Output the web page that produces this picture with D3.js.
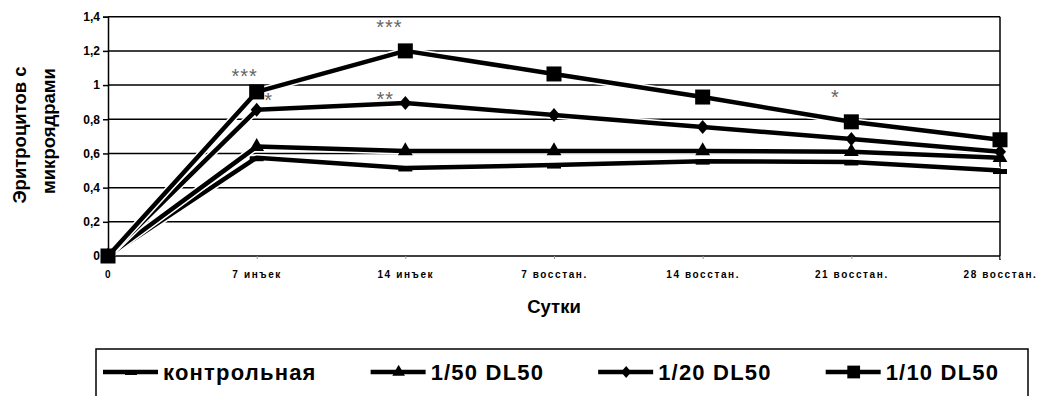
<!DOCTYPE html>
<html>
<head>
<meta charset="utf-8">
<script src="https://cdn.jsdelivr.net/npm/d3@7"></script>
<style>
  html, body { margin: 0; padding: 0; background: #fff; }
  svg { display: block; font-family: Arial, "Liberation Sans", sans-serif; }
</style>
</head>
<body>
<div id="chart"></div>
<script>
// categories (days)
const days = ['0', '7 инъек', '14 инъек', '7 восстан.', '14 восстан.', '21 восстан.', '28 восстан.'];

// series values
const control = [0, 0.575, 0.515, 0.532, 0.555, 0.55, 0.50];
const dose50 = [0, 0.64, 0.615, 0.615, 0.615, 0.61, 0.575];
const dose20 = [0, 0.855, 0.895, 0.825, 0.755, 0.685, 0.61];
const dose10 = [0, 0.96, 1.2, 1.065, 0.93, 0.785, 0.68];

const seriesNames = ['контрольная', '1/50 DL50', '1/20 DL50', '1/10 DL50'];
const seriesMarkers = ['dash', 'triangle', 'diamond', 'square'];

const yTicks = [0, 0.2, 0.4, 0.6, 0.8, 1, 1.2, 1.4];

// significance marks: category, value level, text
const marks = [
    { day: '7 инъек', level: 1.08, text: '***', dx: -12 },
    { day: '7 инъек', level: 0.94, text: '*', dx: 12 },
    { day: '14 инъек', level: 1.37, text: '***', dx: -16 },
    { day: '14 инъек', level: 0.95, text: '**', dx: -20 },
    { day: '21 восстан.', level: 0.96, text: '*', dx: -16 }
];

const series = seriesNames.map((name, i) => ({
    name: name,
    marker: seriesMarkers[i],
    values: [control, dose50, dose20, dose10][i]
}));

const W = 1039, H = 396;
const plot = { left: 108, right: 1000, top: 16.7, bottom: 256 };

const svg = d3.select('#chart')
    .append('svg')
    .attr('width', W)
    .attr('height', H);

const x = d3.scalePoint()
    .domain(days)
    .range([plot.left, plot.right]);

const y = d3.scaleLinear()
    .domain([0, 1.4])
    .range([plot.bottom, plot.top]);

// gridlines
svg.append('g')
    .selectAll('line')
    .data(yTicks.filter(t => t > 0))
    .enter()
    .append('line')
    .attr('x1', plot.left)
    .attr('x2', plot.right)
    .attr('y1', d => y(d))
    .attr('y2', d => y(d))
    .attr('stroke', '#000')
    .attr('stroke-width', 1.5);

// right border
svg.append('line')
    .attr('x1', plot.right).attr('x2', plot.right)
    .attr('y1', plot.top).attr('y2', plot.bottom + 4)
    .attr('stroke', '#000')
    .attr('stroke-width', 1.5);

// y axis
const yAxis = svg.append('g')
    .attr('transform', `translate(${plot.left},0)`)
    .call(d3.axisLeft(y)
        .tickValues(yTicks)
        .tickSize(5)
        .tickPadding(3)
        .tickFormat(d => String(d).replace('.', ',')));
yAxis.select('.domain').attr('stroke', '#000').attr('stroke-width', 1.5);
yAxis.selectAll('.tick line').attr('stroke', '#000').attr('stroke-width', 1.5);
yAxis.selectAll('.tick text')
    .attr('fill', '#000')
    .style('font-size', '12px')
    .style('font-weight', 'bold');

// x axis
const xAxis = svg.append('g')
    .attr('transform', `translate(0,${plot.bottom})`)
    .call(d3.axisBottom(x).tickSize(3).tickPadding(12));
xAxis.select('.domain').attr('stroke', '#000').attr('stroke-width', 1.5)
    .attr('d', `M${plot.left},0H${plot.right}`);
xAxis.selectAll('.tick line').attr('stroke', '#999').attr('stroke-width', 1);
xAxis.selectAll('.tick text')
    .attr('fill', '#000')
    .style('font-size', '10px')
    .style('font-weight', 'bold')
    .style('letter-spacing', '1.6px');

// axis titles
svg.append('text')
    .attr('transform', 'translate(26,135) rotate(-90)')
    .attr('text-anchor', 'middle')
    .style('font-size', '18.5px')
    .style('font-weight', 'bold')
    .text('Эритроцитов с');
svg.append('text')
    .attr('transform', 'translate(55,131) rotate(-90)')
    .attr('text-anchor', 'middle')
    .style('font-size', '18.5px')
    .style('font-weight', 'bold')
    .text('микроядрами');
svg.append('text')
    .attr('x', 554)
    .attr('y', 313)
    .attr('text-anchor', 'middle')
    .style('font-size', '18.5px')
    .style('font-weight', 'bold')
    .text('Сутки');

// marker shapes
const drawMarker = (g, type, size) => {
    if (type === 'dash') {
        g.append('rect')
            .attr('x', -7 * size).attr('y', -1.5 * size)
            .attr('width', 14 * size).attr('height', 5 * size);
    } else if (type === 'triangle') {
        g.append('path').attr('d', d3.symbol(d3.symbolTriangle, 95 * size * size)());
    } else if (type === 'diamond') {
        g.append('path').attr('d', `M0,${-7 * size}L${6 * size},0L0,${7 * size}L${-6 * size},0Z`);
    } else {
        g.append('rect')
            .attr('x', -7.5 * size).attr('y', -7.5 * size)
            .attr('width', 15 * size).attr('height', 15 * size);
    }
};

const line = d3.line()
    .x((d, i) => x(days[i]))
    .y(d => y(d));

series.forEach(s => {
    const g = svg.append('g');
    g.append('path')
        .attr('d', line(s.values))
        .attr('fill', 'none')
        .attr('stroke', '#fff')
        .attr('stroke-width', 7.5)
        .attr('stroke-linejoin', 'round');
    g.append('path')
        .attr('d', line(s.values))
        .attr('fill', 'none')
        .attr('stroke', '#000')
        .attr('stroke-width', 4.5)
        .attr('stroke-linejoin', 'round');
    s.values.forEach((v, i) => {
        const m = g.append('g')
            .attr('transform', `translate(${x(days[i])},${y(v)})`)
            .attr('fill', '#000');
        drawMarker(m, s.marker, 1);
    });
});

// significance marks
svg.append('g')
    .selectAll('text')
    .data(marks)
    .enter()
    .append('text')
    .attr('x', d => x(d.day) + d.dx)
    .attr('y', d => y(d.level))
    .attr('dy', '0.6em')
    .attr('text-anchor', 'middle')
    .attr('fill', '#666')
    .style('font-size', '20px')
    .style('letter-spacing', '1px')
    .text(d => d.text);

// legend
const legend = svg.append('g');
legend.append('rect')
    .attr('x', 96).attr('y', 349)
    .attr('width', 932).attr('height', 70)
    .attr('fill', 'none')
    .attr('stroke', '#000')
    .attr('stroke-width', 1.5);

let lx = 103;
const ly = 372;
series.forEach(s => {
    const item = legend.append('g');
    item.append('line')
        .attr('x1', lx).attr('x2', lx + 55)
        .attr('y1', ly).attr('y2', ly)
        .attr('stroke', '#000')
        .attr('stroke-width', 4.5);
    const m = item.append('g')
        .attr('transform', `translate(${lx + 28},${ly})`)
        .attr('fill', '#000');
    drawMarker(m, s.marker, 0.85);
    const t = item.append('text')
        .attr('x', lx + 60)
        .attr('y', ly + 8)
        .style('font-size', '22px')
        .style('font-weight', 'bold')
        .style('letter-spacing', '1.2px')
        .text(s.name);
    lx += 60 + t.node().getComputedTextLength() + 54;
});
</script>
</body>
</html>
